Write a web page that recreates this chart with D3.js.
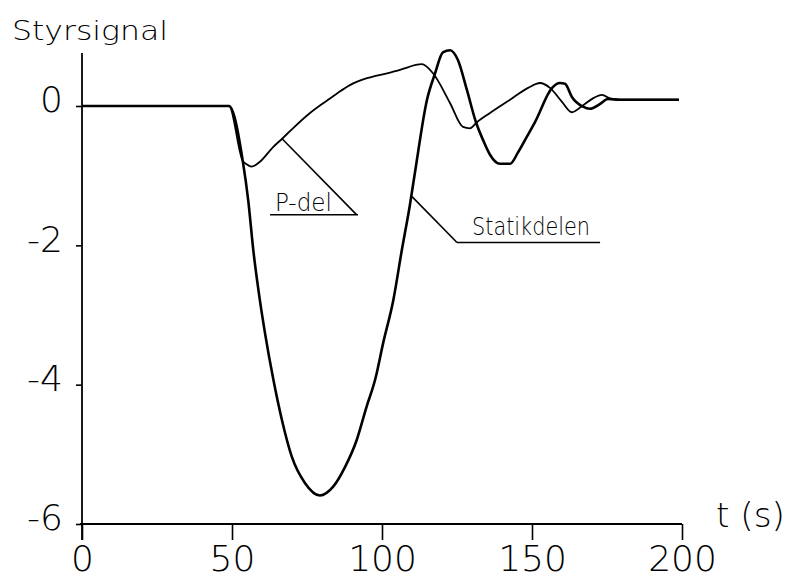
<!DOCTYPE html>
<html>
<head>
<meta charset="utf-8">
<script src="https://cdn.jsdelivr.net/npm/d3@7"></script>
<style>
  body { margin: 0; background: #fff; }
  text { font-family: "DejaVu Sans", sans-serif; font-weight: 200; fill: #000; }
</style>
</head>
<body>
<div id="chart"></div>
<script>
// tick values
const xTicks = [0, 50, 100, 150, 200];
const yTicks = [0, -2, -4, -6];

// Statikdelen (time in s, signal)
const statikT = [0, 49, 53.7, 55.4, 57.1, 58.8, 61, 63.8, 66.6, 69.9, 74.3, 79.3, 83.8, 87.7, 91.6, 94.9, 97.7, 100.4, 103.8, 106.6,
  109.3, 111, 115, 117.7, 120.3, 122.7, 125.3, 128.3, 131.3, 133.7, 136, 139.3, 142.7, 145.3, 148.3, 151, 156.7, 159.3, 161, 163.3,
  167, 169.3, 172.7, 175.3, 179.3, 199];
const statikV = [0, 0, -0.82, -1.35, -2.07, -2.64, -3.26, -3.93, -4.5, -5.03, -5.41, -5.59, -5.46, -5.18, -4.79, -4.31, -3.93, -3.4, -2.78, -2.07,
  -1.42, -0.95, 0.09, 0.47, 0.77, 0.8, 0.66, 0.23, -0.23, -0.49, -0.7, -0.83, -0.83, -0.67, -0.44, -0.23, 0.26, 0.33, 0.32, 0.13,
  -0.01, -0.04, 0.03, 0.1, 0.09, 0.09];

// P-del
const pdelT = [0, 49, 53.5, 55, 56.5, 59.3, 63.7, 66.7, 70.3, 76, 81.7, 85, 89.3, 95, 101.7, 106, 113.3, 117, 122.7, 127,
  129.3, 131.7, 136, 142.7, 148.7, 152.7, 156, 160, 163.3, 166.7, 170.3, 173.3, 176, 179.3, 199];
const pdelV = [0, 0, -0.78, -0.84, -0.87, -0.8, -0.59, -0.47, -0.32, -0.1, 0.08, 0.18, 0.3, 0.4, 0.47, 0.52, 0.6, 0.47, 0.04, -0.3,
  -0.32, -0.23, -0.1, 0.09, 0.26, 0.33, 0.26, 0.06, -0.09, 0, 0.11, 0.16, 0.11, 0.09, 0.09];

// labels with leader lines (data units): anchor on curve, elbow, underline start/end, text start
const labelNames = ["P-del", "Statikdelen"];
const labelAnchor = [[66.7, -0.47], [110, -1.3]];
const labelElbow = [[91.5, -1.56], [125, -1.96]];
const labelLineStart = [62.7, 125];
const labelEnd = [92, 172.7];
const labelTextAt = [[64.3, -1.5], [130, -1.85]];
const labelWidths = [57, 118];

//--- layout ---//
const width = 790, height = 581;
const x = d3.scaleLinear().domain([0, 200]).range([82, 682]);
const y = d3.scaleLinear().domain([-6, 0]).range([524, 106]);

const svg = d3.select("#chart").append("svg")
  .attr("width", width).attr("height", height);

// y axis
const yAxis = svg.append("g")
  .attr("transform", "translate(" + x(0) + ",0)")
  .call(d3.axisLeft(y).tickValues(yTicks).tickSize(6).tickSizeOuter(0).tickFormat(d => String(d)));
yAxis.select(".domain").remove();
yAxis.selectAll(".tick line").attr("stroke", "#000").attr("stroke-width", 1.6);
yAxis.selectAll(".tick text")
  .attr("x", -19).attr("dy", "0.36em").attr("y", -7)
  .style("font-size", "36px").attr("fill", "#000");

// x axis
const xAxis = svg.append("g")
  .attr("transform", "translate(0," + y(-6) + ")")
  .call(d3.axisBottom(x).tickValues(xTicks).tickSize(16).tickSizeOuter(0).tickFormat(d => String(d)));
xAxis.select(".domain").remove();
xAxis.selectAll(".tick line").attr("stroke", "#000").attr("stroke-width", 1.6);
xAxis.selectAll(".tick text")
  .attr("y", 21).attr("dy", "0.71em")
  .style("font-size", "36px").attr("fill", "#000");

// axis lines
svg.append("line")
  .attr("x1", x(0)).attr("x2", x(0))
  .attr("y1", y(0.76)).attr("y2", y(-6) + 16)
  .attr("stroke", "#000").attr("stroke-width", 1.8);
svg.append("line")
  .attr("x1", x(0) - 2).attr("x2", x(200))
  .attr("y1", y(-6)).attr("y2", y(-6))
  .attr("stroke", "#000").attr("stroke-width", 1.8);

// curves
const line = d3.line().x(d => x(d[0])).y(d => y(d[1])).curve(d3.curveMonotoneX);
const statik = statikT.map((t, i) => [t, statikV[i]]);
const pdel = pdelT.map((t, i) => [t, pdelV[i]]);

svg.append("path").datum(pdel)
  .attr("fill", "none").attr("stroke", "#000").attr("stroke-width", 1.8)
  .attr("stroke-linejoin", "round").attr("d", line);
svg.append("path").datum(statik)
  .attr("fill", "none").attr("stroke", "#000").attr("stroke-width", 2.6)
  .attr("stroke-linejoin", "round").attr("d", line);

// annotations
labelNames.forEach((name, i) => {
  svg.append("polyline")
    .attr("points", [
      [x(labelAnchor[i][0]), y(labelAnchor[i][1])],
      [x(labelElbow[i][0]), y(labelElbow[i][1])]
    ].join(" "))
    .attr("fill", "none").attr("stroke", "#000").attr("stroke-width", 1.6);
  svg.append("line")
    .attr("x1", x(labelLineStart[i])).attr("x2", x(labelEnd[i]))
    .attr("y1", y(labelElbow[i][1])).attr("y2", y(labelElbow[i][1]))
    .attr("stroke", "#000").attr("stroke-width", 1.6);
  svg.append("text")
    .attr("x", x(labelTextAt[i][0])).attr("y", y(labelTextAt[i][1]))
    .attr("textLength", labelWidths[i]).attr("lengthAdjust", "spacingAndGlyphs")
    .style("font-size", "25px")
    .text(name);
});

// titles
svg.append("text")
  .attr("x", 12).attr("y", 40)
  .attr("textLength", 156).attr("lengthAdjust", "spacingAndGlyphs")
  .style("font-size", "26px")
  .text("Styrsignal");

svg.append("text")
  .attr("x", 716).attr("y", 527)
  .attr("textLength", 69).attr("lengthAdjust", "spacingAndGlyphs")
  .style("font-size", "34px")
  .text("t (s)");
</script>
</body>
</html>
